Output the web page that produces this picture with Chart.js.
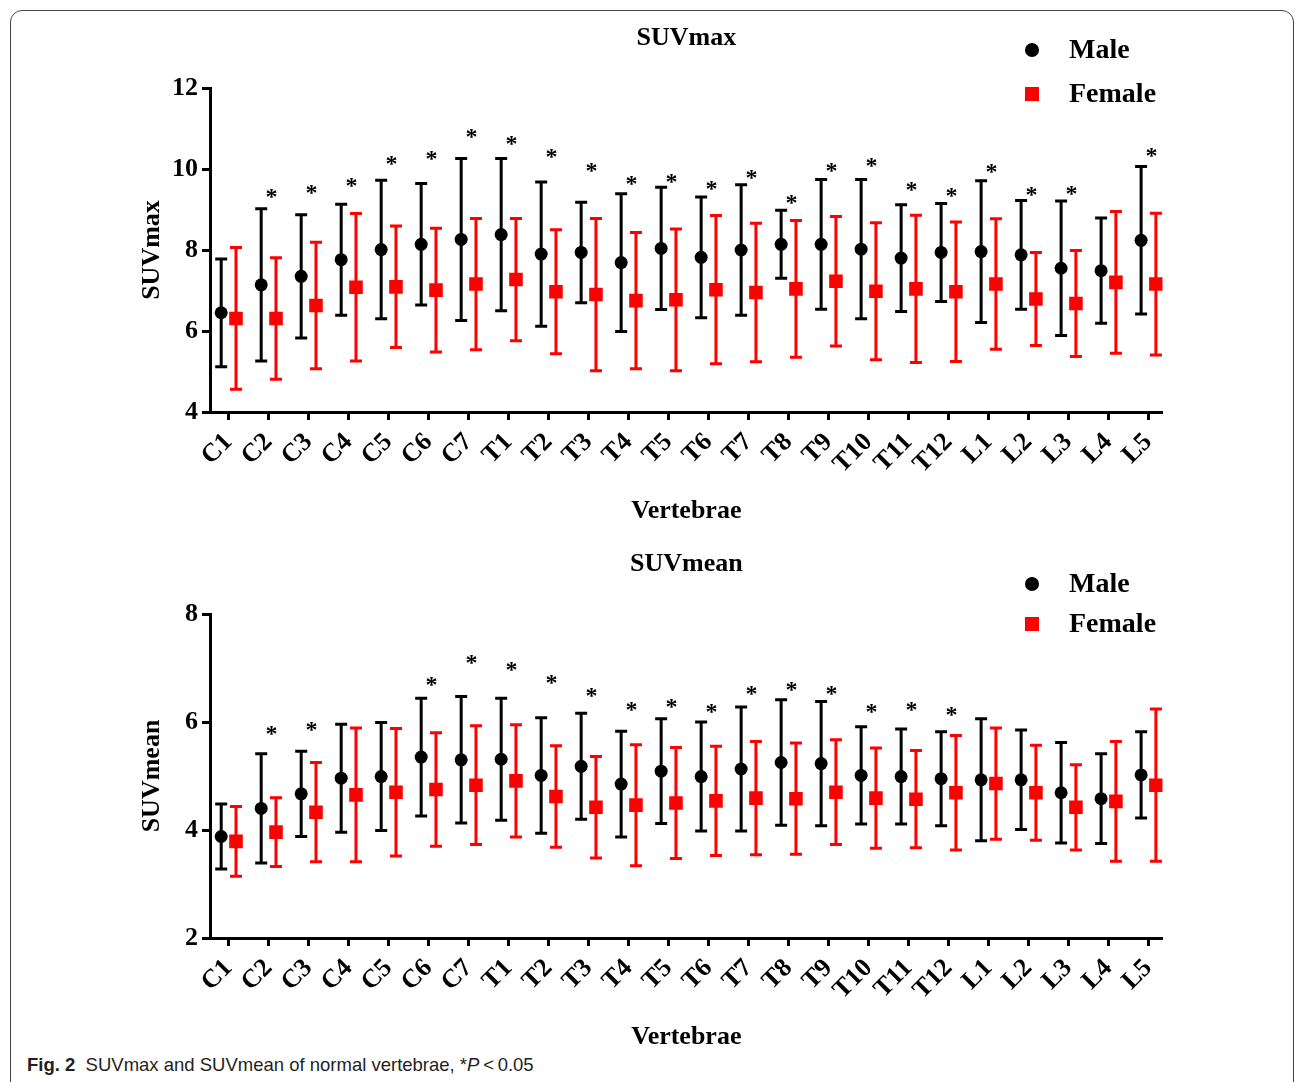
<!DOCTYPE html>
<html>
<head>
<meta charset="utf-8">
<script src="https://cdn.jsdelivr.net/npm/chart.js@4.4.1/dist/chart.umd.min.js"></script>
<style>
  html, body { margin: 0; padding: 0; background: #fff; width: 1295px; height: 1082px; overflow: hidden; }
  #frame { position: absolute; left: 10px; top: 10px; width: 1284px; height: 1100px; border: 1.5px solid #444; border-radius: 12px; box-sizing: border-box; }
  canvas { position: absolute; left: 0; }
  #c1 { top: 0; }
  #c2 { top: 526px; }
  #caption { position: absolute; left: 27px; top: 1054px; font-family: "Liberation Sans", Arial, sans-serif; font-size: 18.5px; color: #231f20; white-space: nowrap; }
</style>
</head>
<body>
<div id="frame"></div>
<canvas id="c1" width="1295" height="527"></canvas>
<canvas id="c2" width="1295" height="527"></canvas>
<div id="caption"><b>Fig. 2</b>&nbsp;&nbsp;SUVmax and SUVmean of normal vertebrae, *<i>P</i>&thinsp;&lt;&thinsp;0.05</div>
<script>
// ---------------- data ----------------
const vertebrae = ['C1','C2','C3','C4','C5','C6','C7','T1','T2','T3','T4','T5','T6','T7','T8','T9','T10','T11','T12','L1','L2','L3','L4','L5'];

const suvmaxMaleMean   = [6.45,7.14,7.35,7.76,8.01,8.14,8.26,8.38,7.90,7.94,7.69,8.04,7.82,8.00,8.14,8.14,8.02,7.80,7.94,7.96,7.88,7.55,7.49,8.24];
const suvmaxMaleSD     = [1.33,1.88,1.52,1.37,1.71,1.50,2.00,1.88,1.78,1.24,1.70,1.51,1.49,1.61,0.84,1.60,1.72,1.32,1.21,1.75,1.34,1.66,1.30,1.82];
const suvmaxFemaleMean = [6.31,6.31,6.63,7.08,7.09,7.01,7.16,7.27,6.97,6.90,6.75,6.77,7.02,6.95,7.04,7.23,6.98,7.04,6.97,7.16,6.79,6.68,7.20,7.16];
const suvmaxFemaleSD   = [1.75,1.50,1.56,1.82,1.50,1.53,1.62,1.51,1.53,1.88,1.68,1.75,1.83,1.71,1.69,1.60,1.69,1.82,1.72,1.61,1.15,1.31,1.75,1.75];
// height (in SUV units) of the significance asterisk, null = not significant
const suvmaxStar       = [null,9.46,9.56,9.72,10.28,10.40,10.93,10.77,10.44,10.11,9.77,9.83,9.66,9.93,9.31,10.11,10.21,9.62,9.48,10.07,9.50,9.52,null,10.48];
const suvmaxTicks      = [4,6,8,10,12];

const suvmeanMaleMean   = [3.88,4.40,4.67,4.96,4.99,5.35,5.30,5.31,5.01,5.18,4.85,5.09,4.99,5.13,5.25,5.23,5.01,4.99,4.95,4.93,4.93,4.69,4.58,5.02];
const suvmeanMaleSD     = [0.60,1.01,0.79,1.00,1.00,1.09,1.17,1.13,1.07,0.98,0.98,0.97,1.01,1.15,1.16,1.15,0.90,0.88,0.87,1.13,0.92,0.93,0.83,0.80];
const suvmeanFemaleMean = [3.79,3.96,4.33,4.65,4.70,4.75,4.83,4.91,4.62,4.42,4.46,4.50,4.54,4.59,4.58,4.70,4.59,4.57,4.69,4.86,4.69,4.42,4.53,4.83];
const suvmeanFemaleSD   = [0.645,0.635,0.92,1.24,1.18,1.05,1.10,1.04,0.94,0.94,1.12,1.03,1.01,1.05,1.03,0.97,0.93,0.90,1.06,1.03,0.88,0.79,1.11,1.41];
const suvmeanStar       = [null,5.89,5.96,null,null,6.79,7.21,7.08,6.83,6.60,6.33,6.38,6.30,6.63,6.71,6.63,6.30,6.34,6.24,null,null,null,null,null];
const suvmeanTicks      = [2,4,6,8];

const seriesNames = ['Male','Female'];

// ---------------- styling ----------------
const SERIF = '"Liberation Serif", "Times New Roman", serif';
const MALE_COLOR = '#000000';
const FEMALE_COLOR = '#ff0000';
const MALE_SHIFT = -0.18, FEMALE_SHIFT = 0.19, STAR_SHIFT = 0.08;

const errorBarPlugin = {
  id: 'errorBars',
  beforeDatasetsDraw(chart) {
    const { ctx, scales: { x, y } } = chart;
    chart.data.datasets.forEach((ds, di) => {
      if (!chart.isDatasetVisible(di)) return;
      ctx.save();
      ctx.strokeStyle = ds.errorColor;
      ctx.lineWidth = 3;
      ctx.lineCap = 'butt';
      ds.data.forEach((pt, i) => {
        const sd = ds.sd[i];
        const px = x.getPixelForValue(pt.x);
        const yt = y.getPixelForValue(pt.y + sd);
        const yb = y.getPixelForValue(pt.y - sd);
        ctx.beginPath();
        ctx.moveTo(px, yt); ctx.lineTo(px, yb);
        ctx.moveTo(px - 6, yt); ctx.lineTo(px + 6, yt);
        ctx.moveTo(px - 6, yb); ctx.lineTo(px + 6, yb);
        ctx.stroke();
      });
      ctx.restore();
    });
  },
  afterDatasetsDraw(chart, args, opts) {
    const { ctx, scales: { x, y } } = chart;
    ctx.save();
    ctx.fillStyle = '#000';
    ctx.font = 'bold 24px ' + SERIF;
    ctx.textAlign = 'center';
    ctx.textBaseline = 'alphabetic';
    (opts.stars || []).forEach((s, i) => {
      if (s == null) return;
      ctx.fillText('*', x.getPixelForValue(i + STAR_SHIFT), y.getPixelForValue(s) + 13);
    });
    ctx.restore();
  },
  afterDraw(chart, args, opts) {
    const { ctx } = chart;
    const lg = opts.legend;
    if (!lg) return;
    ctx.save();
    ctx.fillStyle = MALE_COLOR;
    ctx.beginPath();
    ctx.arc(lg.x, lg.y1, 7, 0, Math.PI * 2);
    ctx.fill();
    ctx.fillStyle = FEMALE_COLOR;
    ctx.fillRect(lg.x - 7, lg.y2 - 7, 14, 14);
    ctx.fillStyle = '#000';
    ctx.font = 'bold 28px ' + SERIF;
    ctx.textAlign = 'left';
    ctx.textBaseline = 'middle';
    ctx.fillText(seriesNames[0], lg.tx, lg.y1 + 1);
    ctx.fillText(seriesNames[1], lg.tx, lg.y2 + 1);
    ctx.restore();
  }
};

function makeChart(id, title, maleMean, maleSD, femaleMean, femaleSD, stars, ticks, legend) {
  const H = 527;
  const AREA_TOP = 88, AREA_BOTTOM = 412, AREA_LEFT = 210, AREA_RIGHT = 1162.7;
  return new Chart(document.getElementById(id), {
    type: 'scatter',
    data: {
      datasets: [
        {
          label: seriesNames[0],
          data: vertebrae.map((v, i) => ({ x: i + MALE_SHIFT, y: maleMean[i] })),
          sd: maleSD,
          errorColor: MALE_COLOR,
          backgroundColor: MALE_COLOR,
          borderColor: MALE_COLOR,
          pointStyle: 'circle',
          pointRadius: 6.5,
          pointHoverRadius: 6.5,
          borderWidth: 0,
          showLine: false
        },
        {
          label: seriesNames[1],
          data: vertebrae.map((v, i) => ({ x: i + FEMALE_SHIFT, y: femaleMean[i] })),
          sd: femaleSD,
          errorColor: FEMALE_COLOR,
          backgroundColor: FEMALE_COLOR,
          borderColor: FEMALE_COLOR,
          pointStyle: 'rect',
          pointRadius: 9.6,
          pointHoverRadius: 9.6,
          borderWidth: 0,
          showLine: false
        }
      ]
    },
    options: {
      responsive: false,
      animation: false,
      events: [],
      layout: { padding: { left: 0, top: 0, bottom: 0, right: 1295 - AREA_RIGHT } },
      plugins: {
        legend: { display: false },
        tooltip: { enabled: false },
        title: {
          display: true,
          text: title,
          fullSize: false,
          color: '#000',
          font: { family: SERIF, size: 26, weight: 'bold', lineHeight: 1.2 },
          padding: { top: 23, bottom: AREA_TOP - 23 - 31.2 }
        },
        errorBars: { stars: stars, legend: legend }
      },
      scales: {
        x: {
          type: 'linear',
          min: -0.46,
          max: 23.36,
          afterFit(scale) { scale.height = H - AREA_BOTTOM; },
          afterBuildTicks(scale) { scale.ticks = vertebrae.map((v, i) => ({ value: i })); },
          border: { display: true, width: 3, color: '#000' },
          grid: { display: true, drawOnChartArea: false, drawTicks: true, tickLength: 8, tickWidth: 3, tickColor: '#000' },
          ticks: {
            autoSkip: false,
            minRotation: 45,
            maxRotation: 45,
            padding: 7,
            color: '#000',
            font: { family: SERIF, size: 26, weight: 'bold' },
            callback: (v) => vertebrae[Math.round(v)]
          },
          title: {
            display: true,
            text: 'Vertebrae',
            color: '#000',
            font: { family: SERIF, size: 26, weight: 'bold', lineHeight: 1.2 },
            padding: { top: 0, bottom: 0 }
          }
        },
        y: {
          min: ticks[0],
          max: ticks[ticks.length - 1],
          afterFit(scale) { scale.width = AREA_LEFT; },
          afterBuildTicks(scale) { scale.ticks = ticks.map(t => ({ value: t })); },
          border: { display: true, width: 3, color: '#000' },
          grid: { display: true, drawOnChartArea: false, drawTicks: true, tickLength: 8, tickWidth: 3, tickColor: '#000' },
          ticks: {
            padding: 4,
            color: '#000',
            font: { family: SERIF, size: 26, weight: 'bold' }
          },
          title: {
            display: true,
            text: title,
            color: '#000',
            font: { family: SERIF, size: 26, weight: 'bold', lineHeight: 1.2 },
            padding: { top: 137, bottom: 0 }
          }
        }
      }
    },
    plugins: [errorBarPlugin]
  });
}

makeChart('c1', 'SUVmax', suvmaxMaleMean, suvmaxMaleSD, suvmaxFemaleMean, suvmaxFemaleSD, suvmaxStar, suvmaxTicks,
  { x: 1032, y1: 50, y2: 94, tx: 1069 });
makeChart('c2', 'SUVmean', suvmeanMaleMean, suvmeanMaleSD, suvmeanFemaleMean, suvmeanFemaleSD, suvmeanStar, suvmeanTicks,
  { x: 1032, y1: 58, y2: 98, tx: 1069 });
</script>
</body>
</html>
